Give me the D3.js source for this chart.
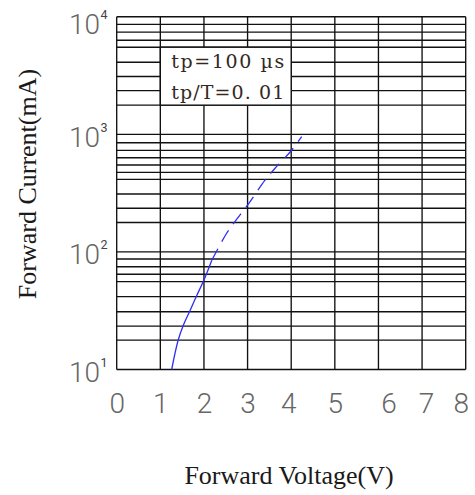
<!DOCTYPE html>
<html>
<head>
<meta charset="utf-8">
<script src="https://cdn.jsdelivr.net/npm/d3@7"></script>
<style>
  body { margin: 0; background: #fff; }
  svg { display: block; }
</style>
</head>
<body>
<div id="chart"></div>
<script>
var voltage = [1.26, 1.41, 1.53, 1.68, 1.83, 2.0, 2.18, 2.52, 2.71, 3.0, 3.4, 3.63, 4.0, 4.24]
var current = [10, 17.8, 23.9, 31.6, 42.2, 57.7, 85, 144, 181, 250, 408, 514, 725, 954]
var solidUntil = 2.18

var xTicks = [0, 1, 2, 3, 4, 5, 6, 7, 8]
var decades = [10, 100, 1000, 10000]
// the printed grid is hand drawn, so minor lines are read as drawn
var gridCurrent = [8600, 7400, 6300, 5500, 4100, 3100, 2350, 1770,
  848, 731, 632, 548, 475, 414, 311, 235, 178,
  87, 74.8, 64.5, 55.8, 41.6, 31, 23.4, 17.8]

var noteLines = ["tp=100  µs", "tp/T=0. 01"]
var noteVolt = [1, 4]
var noteCurr = [1770, 5500]

drawChart()

function drawChart() {
  var svg = d3.select("#chart").append("svg")
    .attr("width", 475)
    .attr("height", 495)

  var margin = { left: 116.7, right: 465.7, top: 16.7, bottom: 369.5 }

  var x = d3.scaleLinear().domain([0, 8]).range([margin.left, margin.right])
  var y = d3.scaleLog().domain([10, 10000]).range([margin.bottom, margin.top])

  // grid
  var grid = svg.append("g").attr("stroke", "#111").attr("stroke-width", 1.35)

  grid.selectAll(".hgrid").data(gridCurrent.concat(decades))
    .enter().append("line")
    .attr("x1", margin.left).attr("x2", margin.right)
    .attr("y1", function (d) { return y(d) })
    .attr("y2", function (d) { return y(d) })

  grid.selectAll(".vgrid").data(xTicks)
    .enter().append("line")
    .attr("x1", function (d) { return x(d) })
    .attr("x2", function (d) { return x(d) })
    .attr("y1", margin.top).attr("y2", margin.bottom)

  // note box
  svg.append("rect")
    .attr("x", x(noteVolt[0]))
    .attr("y", y(noteCurr[1]))
    .attr("width", x(noteVolt[1]) - x(noteVolt[0]))
    .attr("height", y(noteCurr[0]) - y(noteCurr[1]))
    .attr("fill", "#fff")
    .attr("stroke", "#111")
    .attr("stroke-width", 1.35)

  svg.selectAll(".note").data(noteLines)
    .enter().append("text")
    .attr("x", x(noteVolt[0]) + 11)
    .attr("y", function (d, i) { return 68 + i * 31 })
    .attr("textLength", 113)
    .attr("lengthAdjust", "spacing")
    .style("font-family", "'DejaVu Serif', serif")
    .style("font-size", "19px")
    .style("fill", "#33291f")
    .text(function (d) { return d })

  // curve
  var line = d3.line()
    .x(function (d) { return x(d[0]) })
    .y(function (d) { return y(d[1]) })
    .curve(d3.curveCatmullRom)

  var pts = voltage.map(function (v, i) { return [v, current[i]] })

  svg.append("path")
    .datum(pts.filter(function (d) { return d[0] <= solidUntil }))
    .attr("d", line)
    .attr("fill", "none")
    .attr("stroke", "#2e2ef5")
    .attr("stroke-width", 1.3)

  svg.append("path")
    .datum(pts.filter(function (d) { return d[0] >= solidUntil }))
    .attr("d", line)
    .attr("fill", "none")
    .attr("stroke", "#2e2ef5")
    .attr("stroke-width", 1.3)
    .attr("stroke-dasharray", "13,8")

  // x axis labels
  var nudge = { 4: -3, 6: 10, 7: 4, 8: -5 }
  var gx = svg.append("g")
    .attr("transform", "translate(0," + margin.bottom + ")")
    .call(d3.axisBottom(x).tickValues(xTicks).tickSize(0).tickPadding(24))
  gx.select(".domain").remove()
  gx.selectAll(".tick text")
    .attr("dx", function (d) { return nudge[d] || 0 })
    .style("font-family", "Roboto, sans-serif")
    .style("font-weight", 300)
    .style("font-size", "28px")
    .style("fill", "#666")

  // y axis labels: 10 with exponent
  var gy = svg.append("g")
    .attr("transform", "translate(" + margin.left + ",0)")
    .call(d3.axisLeft(y).tickValues(decades).tickSize(0).tickFormat(""))
  gy.select(".domain").remove()
  gy.selectAll(".tick").each(function (d) {
    var t = d3.select(this)
    var base = d === 10000 ? 17 : 12
    t.append("text")
      .attr("x", 100 - margin.left)
      .attr("y", base)
      .attr("dy", 0)
      .attr("text-anchor", "end")
      .style("font-family", "Roboto, sans-serif")
      .style("font-weight", 300)
      .style("font-size", "28px")
      .style("fill", "#666")
      .text("10")
    t.append("text")
      .attr("x", 100.5 - margin.left)
      .attr("y", base - 15)
      .attr("dy", 0)
      .attr("text-anchor", "start")
      .style("font-family", "Roboto, sans-serif")
      .style("font-size", "12.5px")
      .style("fill", "#444")
      .text(Math.round(Math.log10(d)))
  })

  // titles
  svg.append("text")
    .attr("transform", "translate(35.5,184) rotate(-90)")
    .attr("text-anchor", "middle")
    .style("font-family", "'Liberation Serif', serif")
    .style("font-size", "26px")
    .style("fill", "#1a1a1a")
    .text("Forward Current(mA)")

  svg.append("text")
    .attr("x", 289)
    .attr("y", 484)
    .attr("text-anchor", "middle")
    .style("font-family", "'Liberation Serif', serif")
    .style("font-size", "26px")
    .style("fill", "#1a1a1a")
    .text("Forward Voltage(V)")
}
</script>
</body>
</html>
